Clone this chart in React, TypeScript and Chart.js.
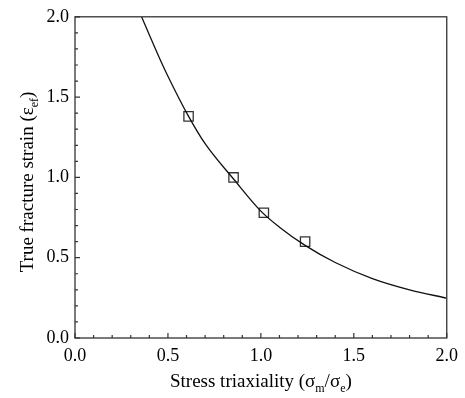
import React, { useEffect, useRef } from "react";
import { Chart, registerables } from "chart.js";

Chart.register(...registerables);

// Measured data points (stress triaxiality, true fracture strain)
const pointX = [0.611, 0.853, 1.016, 1.238];
const pointY = [1.38, 1.0, 0.78, 0.6];

// Fitted curve
const curveX = [0.358, 0.45, 0.5, 0.611, 0.7, 0.853, 1.0, 1.1, 1.24, 1.4, 1.6, 1.8, 2.0];
const curveY = [2.0, 1.755, 1.63, 1.38, 1.21, 0.99, 0.79, 0.69, 0.575, 0.47, 0.37, 0.3, 0.248];

const xTicks = [0, 0.5, 1.0, 1.5, 2.0];
const yTicks = [0, 0.5, 1.0, 1.5, 2.0];

const FONT = "'Liberation Serif', 'Times New Roman', serif";

const framePlugin = {
  id: "frame",
  afterDraw(chart: any) {
    const { ctx, chartArea: a, scales } = chart;
    ctx.save();
    ctx.strokeStyle = "#333";
    ctx.lineWidth = 1.3;
    ctx.strokeRect(a.left, a.top, a.right - a.left, a.bottom - a.top);
    // inward ticks
    ctx.lineWidth = 1.2;
    ctx.beginPath();
    for (let i = 0; i <= 20; i++) {
      const v = i / 10;
      const len = i % 5 === 0 ? 5 : 3;
      const px = scales.x.getPixelForValue(v);
      ctx.moveTo(px, a.bottom);
      ctx.lineTo(px, a.bottom - len);
      const py = scales.y.getPixelForValue(v);
      ctx.moveTo(a.left, py);
      ctx.lineTo(a.left + len, py);
    }
    ctx.stroke();

    // axis titles with subscripts
    const big = `19px ${FONT}`;
    const small = `12px ${FONT}`;
    const drawParts = (parts: [string, boolean][], cx: number, base: number) => {
      let w = 0;
      for (const [t, sub] of parts) {
        ctx.font = sub ? small : big;
        w += ctx.measureText(t).width;
      }
      let x = cx - w / 2;
      ctx.textAlign = "left";
      ctx.textBaseline = "alphabetic";
      ctx.fillStyle = "#000";
      for (const [t, sub] of parts) {
        ctx.font = sub ? small : big;
        ctx.fillText(t, x, sub ? base + 5 : base);
        x += ctx.measureText(t).width;
      }
    };
    const cx = (a.left + a.right) / 2;
    drawParts(
      [
        ["Stress triaxiality (σ", false],
        ["m", true],
        ["/σ", false],
        ["e", true],
        [")", false],
      ],
      cx,
      387
    );
    ctx.save();
    ctx.translate(33, 182);
    ctx.rotate(-Math.PI / 2);
    drawParts(
      [
        ["True fracture strain (ε", false],
        ["ef", true],
        [")", false],
      ],
      0,
      0
    );
    ctx.restore();
    ctx.restore();
  },
};

export default function App() {
  const ref = useRef<HTMLCanvasElement>(null);
  useEffect(() => {
    document.body.style.margin = "0";
    const chart = new Chart(ref.current!, {
      type: "scatter",
      data: {
        datasets: [
          {
            type: "line",
            data: curveX.map((x, i) => ({ x, y: curveY[i] })),
            borderColor: "#111",
            borderWidth: 1.3,
            pointRadius: 0,
            tension: 0.4,
            cubicInterpolationMode: "monotone",
            fill: false,
          } as any,
          {
            data: pointX.map((x, i) => ({ x, y: pointY[i] })),
            pointStyle: "rect",
            pointRadius: 6.6,
            pointBackgroundColor: "#fff",
            pointBorderColor: "#333",
            pointBorderWidth: 1.3,
            showLine: false,
          } as any,
        ],
      },
      options: {
        animation: false,
        responsive: false,
        maintainAspectRatio: false,
        layout: { padding: { left: 0, right: 18, top: 16, bottom: 0 } },
        plugins: { legend: { display: false }, tooltip: { enabled: false } },
        scales: {
          x: {
            type: "linear",
            min: 0,
            max: 2,
            afterBuildTicks: (s: any) => {
              s.ticks = xTicks.map((v) => ({ value: v }));
            },
            afterFit: (s: any) => {
              s.height = 60;
            },
            ticks: {
              font: { family: FONT, size: 18 },
              color: "#000",
              padding: 7,
              maxRotation: 0,
              callback: (v: any) => Number(v).toFixed(1),
            },
            grid: { display: false, drawTicks: false },
            border: { display: false },
          },
          y: {
            type: "linear",
            min: 0,
            max: 2,
            afterBuildTicks: (s: any) => {
              s.ticks = yTicks.map((v) => ({ value: v }));
            },
            afterFit: (s: any) => {
              s.width = 75;
            },
            ticks: {
              font: { family: FONT, size: 18 },
              color: "#000",
              padding: 6,
              callback: (v: any) => Number(v).toFixed(1),
            },
            grid: { display: false, drawTicks: false },
            border: { display: false },
          },
        },
      },
      plugins: [framePlugin],
    });
    return () => chart.destroy();
  }, []);
  return (
    <div style={{ position: "absolute", left: 0, top: 0, width: 465, height: 398, background: "#fff" }}>
      <canvas ref={ref} width={465} height={398} style={{ width: 465, height: 398 }} />
    </div>
  );
}
